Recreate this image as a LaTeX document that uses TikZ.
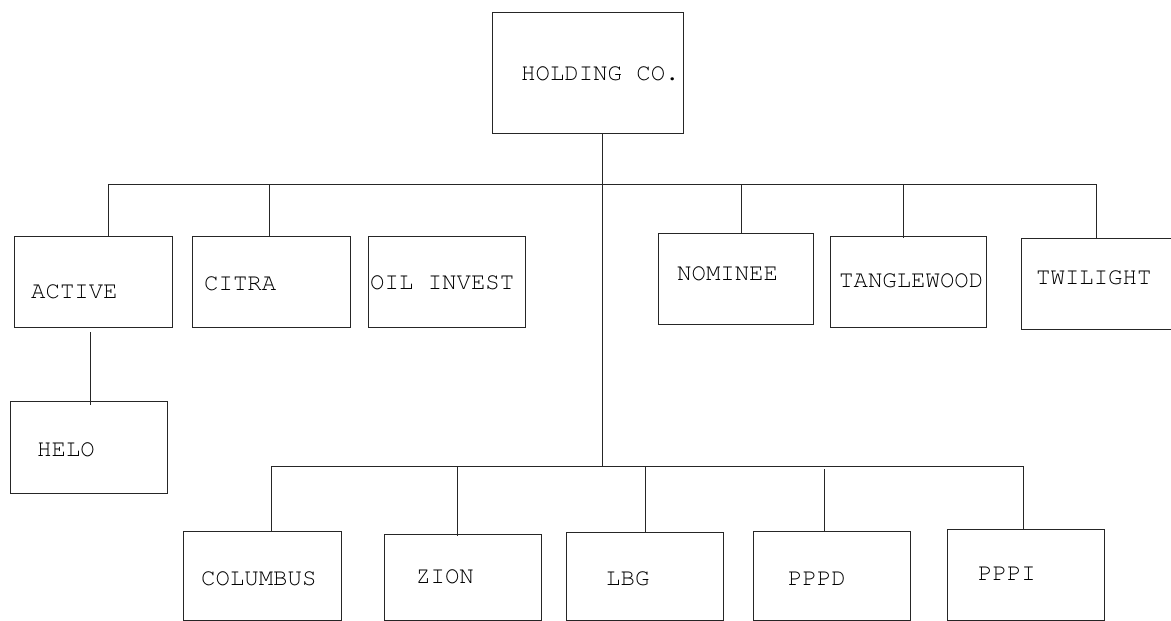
\documentclass[tikz,border=0pt]{standalone}
\usepackage[T1]{fontenc}
\usetikzlibrary{fit}
% Courier-style typewriter face for the company names
\newcommand{\chartfont}{\fontencoding{T1}\fontfamily{pcr}\fontseries{m}\fontshape{n}\fontsize{24}{24}\selectfont}
\begin{document}
\begin{tikzpicture}[x=1pt,y=-1pt,
  box/.style={draw=black!85, line width=1pt, inner sep=0pt, outer sep=0pt},
  lbl/.style={font=\chartfont, inner sep=0pt, anchor=west},
  link/.style={draw=black!85, line width=1pt}]
\clip (0,0) rectangle (1171,621);
\fill[white] (0,0) rectangle (1171,621);

% boxes (corner to corner)
\node[box, fit={(492,12) (683,133)}] (holding) {};
\node[box, fit={(14,236) (172,327)}] (active) {};
\node[box, fit={(192,236) (350,327)}] (citra) {};
\node[box, fit={(368,236) (525,327)}] (oil) {};
\node[box, fit={(658,233) (813,324)}] (nominee) {};
\node[box, fit={(830,236) (986,327)}] (tangle) {};
\node[box, fit={(1021,238) (1180,329)}] (twilight) {};
\node[box, fit={(10,401) (167,493)}] (helo) {};
\node[box, fit={(183,531) (341,620)}] (columbus) {};
\node[box, fit={(384,534) (541,620)}] (zion) {};
\node[box, fit={(566,532) (723,620)}] (lbg) {};
\node[box, fit={(753,531) (910,620)}] (pppd) {};
\node[box, fit={(947,529) (1104,620)}] (pppi) {};

% labels
\node[lbl] (tholding) at (521,74) {HOLDING CO.};
\node[lbl] (tactive) at (31,292) {ACTIVE};
\node[lbl] (tcitra) at (204,284) {CITRA};
\node[lbl] (toil) at (370,283) {OIL INVEST};
\node[lbl] (tnominee) at (677,274) {NOMINEE};
\node[lbl] (ttangle) at (839,281) {TANGLEWOOD};
\node[lbl] (ttwilight) at (1036,278) {TWILIGHT};
\node[lbl] (thelo) at (37,450) {HELO};
\node[lbl] (tcolumbus) at (201,579) {COLUMBUS};
\node[lbl] (tzion) at (416,577) {ZION};
\node[lbl] (tlbg) at (606,579) {LBG};
\node[lbl] (tpppd) at (788,579) {PPPD};
\node[lbl] (tpppi) at (978,574) {PPPI};

% bus lines
\coordinate (topbus) at (602,184);
\coordinate (lowbus) at (602,466);
\coordinate (topL) at (108,184);
\coordinate (topR) at (1096,184);
\coordinate (lowL) at (271,466);
\coordinate (lowR) at (1024,466);
\draw[link] (holding.south -| topbus) -- (lowbus);
\draw[link] (topL) -- (topR);
\draw[link] (lowL) -- (lowR);

% drops to the first tier
\coordinate (citratap) at (269,184);
\coordinate (nomtap) at (741,184);
\coordinate (tangletap) at (903,184);
\draw[link] (topL) -- (topL |- active.north);
\draw[link] (citratap) -- (citratap |- citra.north);
\draw[link] (nomtap) -- (nomtap |- nominee.north);
\draw[link] (tangletap) -- (903,238) coordinate (tangledrop);
\draw[link] (topR) -- (topR |- twilight.north);

% ACTIVE to HELO
\coordinate (heloup) at (90,332);
\coordinate (helodrop) at (90,405);
\draw[link] (heloup) -- (helodrop);

% drops to the second tier
\coordinate (ziontap) at (457,466);
\coordinate (lbgtap) at (645,466);
\coordinate (pppdtap) at (824,469);
\coordinate (pppitap) at (1023,466);
\draw[link] (lowL) -- (lowL |- columbus.north);
\draw[link] (ziontap) -- (457,536) coordinate (ziondrop);
\draw[link] (lbgtap) -- (645,533) coordinate (lbgdrop);
\draw[link] (pppdtap) -- (pppdtap |- pppd.north);
\draw[link] (pppitap) -- (pppitap |- pppi.north);
\end{tikzpicture}
\end{document}
